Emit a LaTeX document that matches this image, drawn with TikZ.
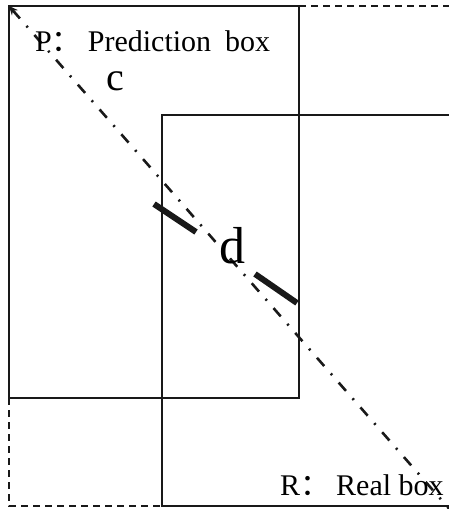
\documentclass[tikz,border=0pt]{standalone}
\usepackage{fontspec}
\setmainfont{Liberation Serif}
\newfontfamily\cjk{Noto Sans CJK SC}
\usetikzlibrary{arrows.meta}

\tikzset{
  boxline/.style={line width=2pt, black!90},
  dashline/.style={line width=2.2pt, black!90, dash pattern=on 7pt off 5pt},
  diagline/.style={line width=2.6pt, black!90, dash pattern=on 11pt off 10pt on 2pt off 10pt},
  distmark/.style={line width=6pt, black!90},
  boxlabel/.style={anchor=base west, inner sep=0pt, font=\fontsize{30}{31}\selectfont}
}

\begin{document}
\begin{tikzpicture}[x=1pt, y=-1pt, >=Stealth]
  \useasboundingbox (0,0) rectangle (449,509);

  % corners of the two boxes and of the enclosing box
  \coordinate (Ptl) at (9,6);
  \coordinate (Pbr) at (299,398);
  \coordinate (Rtl) at (162,115);
  \coordinate (Rbr) at (455,506);
  \coordinate (Ctr) at (455,6);
  \coordinate (Cbl) at (9,506);

  % prediction box P and real box R
  \draw[boxline] (Ptl) rectangle (Pbr);
  \draw[boxline] (Rtl) rectangle (Rbr);

  % smallest enclosing box (dashed parts only)
  \draw[dashline] (Pbr |- Ptl) -- (Ctr);
  \draw[dashline] (Ptl |- Pbr) -- (Cbl) -- (Rtl |- Cbl);

  % diagonal c of the enclosing box
  \coordinate (Dend) at (452,512);
  \draw[diagline, {Stealth[length=9pt, width=8pt]}-] (Ptl) -- (Dend);

  % distance d between the centres
  \coordinate (d1a) at (154,204);
  \coordinate (d1b) at (196,232);
  \coordinate (d2a) at (255,274);
  \coordinate (d2b) at (297,303);
  \draw[distmark] (d1a) -- (d1b);
  \draw[distmark] (d2a) -- (d2b);

  % labels
  \node[boxlabel] (plabel) at (35,51) {P{\cjk ：}\hspace{6pt}Prediction\hspace{14pt}box};
  \node[boxlabel] (rlabel) at (280,495) {R{\cjk ：}\hspace{6pt}Real box};
  \node[anchor=base, inner sep=0pt, font=\fontsize{40}{42}\selectfont] (clabel) at (115,90) {c};
  \node[anchor=base, inner sep=0pt, font=\fontsize{52}{54}\selectfont] (dlabel) at (232,263) {d};

\end{tikzpicture}
\end{document}
